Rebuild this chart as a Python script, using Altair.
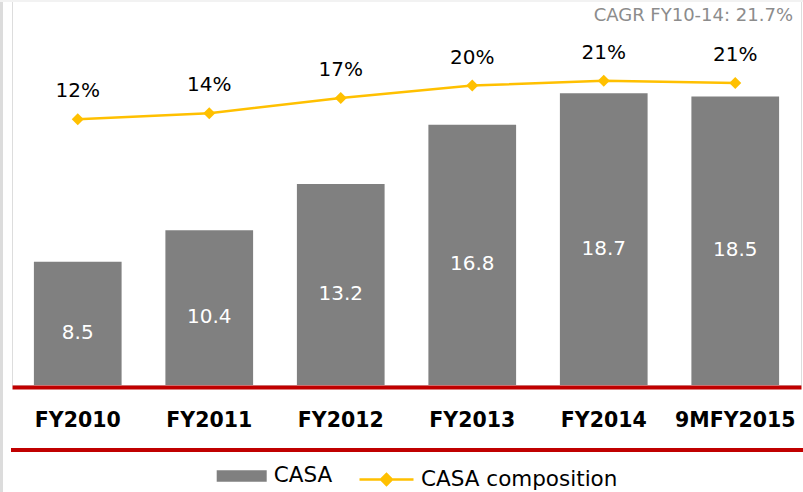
import altair as alt
import pandas as pd

categories = ["FY2010", "FY2011", "FY2012", "FY2013", "FY2014", "9MFY2015"]
casa = [8.5, 10.4, 13.2, 16.8, 18.7, 18.5]
casa_composition = [0.124, 0.138, 0.173, 0.202, 0.213, 0.208]
bar_series = "CASA"
line_series = "CASA composition"
cagr_text = "CAGR FY10-14: 21.7%"

GRAY = "#808080"
YELLOW = "#FFC000"
RED = "#C00000"
FONT = "DejaVu Sans"

W, H = 789, 385

df = pd.DataFrame({
    "cat": categories,
    "casa": casa,
    "comp": casa_composition,
    "bar_series": [bar_series] * len(categories),
    "line_series": [line_series] * len(categories),
})
one = pd.DataFrame({"t": [cagr_text]})

xenc = alt.X("cat:N", sort=categories,
             scale=alt.Scale(paddingInner=0.333, paddingOuter=0.1665),
             axis=alt.Axis(title=None, labelAngle=0, labelFont=FONT, labelFontSize=20.5,
                           labelFontWeight="bold", labelColor="#000000", ticks=False,
                           domainColor=RED, domainWidth=4, offset=2,
                           labelPadding=33, labelBaseline="middle", grid=False))

yscale = alt.Scale(domain=[1.03, 24.35], zero=False, nice=False)
y2scale = alt.Scale(domain=[-0.494, 0.401], zero=False, nice=False)

bars = alt.Chart(df).mark_bar(clip=True).encode(
    x=xenc,
    y=alt.Y("casa:Q", scale=yscale, axis=None),
    color=alt.Color("bar_series:N",
                    scale=alt.Scale(domain=[bar_series], range=[GRAY]),
                    legend=alt.Legend(title=None, orient="none", legendX=204.7, legendY=451,
                                      symbolType="M-1,-0.226H1V0.226H-1Z", symbolSize=2500,
                                      symbolStrokeWidth=0, labelFont=FONT, labelFontSize=21.5,
                                      labelColor="#000000", labelOffset=7, padding=0,
                                      labelLimit=400)),
)

bar_labels = alt.Chart(df).transform_calculate(half="datum.casa / 2").mark_text(
    font=FONT, fontSize=20, color="#FFFFFF", baseline="middle", dy=1
).encode(
    x=alt.X("cat:N", sort=categories),
    y=alt.Y("half:Q", scale=yscale, axis=None),
    text=alt.Text("casa:Q", format=".1f"),
)

left = alt.layer(bars, bar_labels)

line = alt.Chart(df).mark_line(color=YELLOW, strokeWidth=2.5).encode(
    x=alt.X("cat:N", sort=categories),
    y=alt.Y("comp:Q", scale=y2scale, axis=None),
    stroke=alt.Stroke("line_series:N",
                      scale=alt.Scale(domain=[line_series], range=[YELLOW]),
                      legend=alt.Legend(title=None, orient="none", legendX=346, legendY=451,
                                        symbolType="M-1,0H1M-0.2,0L0,-0.2L0.2,0L0,0.2Z",
                                        symbolSize=2916, symbolStrokeWidth=2.5,
                                        symbolFillColor=YELLOW, labelFont=FONT,
                                        labelFontSize=21.5, labelColor="#000000",
                                        labelOffset=6, padding=0, labelLimit=400)),
)
pts = alt.Chart(df).mark_point(shape="diamond", filled=True, size=144, color=YELLOW, opacity=1).encode(
    x=alt.X("cat:N", sort=categories),
    y=alt.Y("comp:Q", scale=y2scale, axis=None),
)
pct = alt.Chart(df).mark_text(font=FONT, fontSize=20, color="#000000", baseline="middle", dy=-28).encode(
    x=alt.X("cat:N", sort=categories),
    y=alt.Y("comp:Q", scale=y2scale, axis=None),
    text=alt.Text("comp:Q", format=".0%"),
)
right = alt.layer(line, pts, pct)

red2 = alt.Chart(one).mark_rule(color=RED, strokeWidth=4).encode(
    x=alt.value(-1), x2=alt.value(W + 2), y=alt.value(450))
border = alt.Chart(one).mark_rule(color="#dcdcdc", strokeWidth=3).encode(
    x=alt.value(-10.5), y=alt.value(0), y2=alt.value(492))
topline = alt.Chart(one).mark_rule(color="#f2f2f2", strokeWidth=2).encode(
    x=alt.value(-12), x2=alt.value(W + 2), y=alt.value(1))
cagr = alt.Chart(one).mark_text(font=FONT, fontSize=18, color="#8c8c8c", align="right",
                                baseline="middle").encode(
    x=alt.value(781), y=alt.value(16), text="t:N")

chart = alt.layer(left, right, red2, border, topline, cagr).resolve_scale(
    y="independent", color="independent", stroke="independent"
).properties(
    width=W, height=H,
    padding={"left": 12, "top": 0, "right": 2, "bottom": 107},
    autosize=alt.AutoSizeParams(type="none"),
).configure_view(stroke=None).configure(background="#FFFFFF")

chart.save("out.html", embed_options={"renderer": "svg", "actions": False})
